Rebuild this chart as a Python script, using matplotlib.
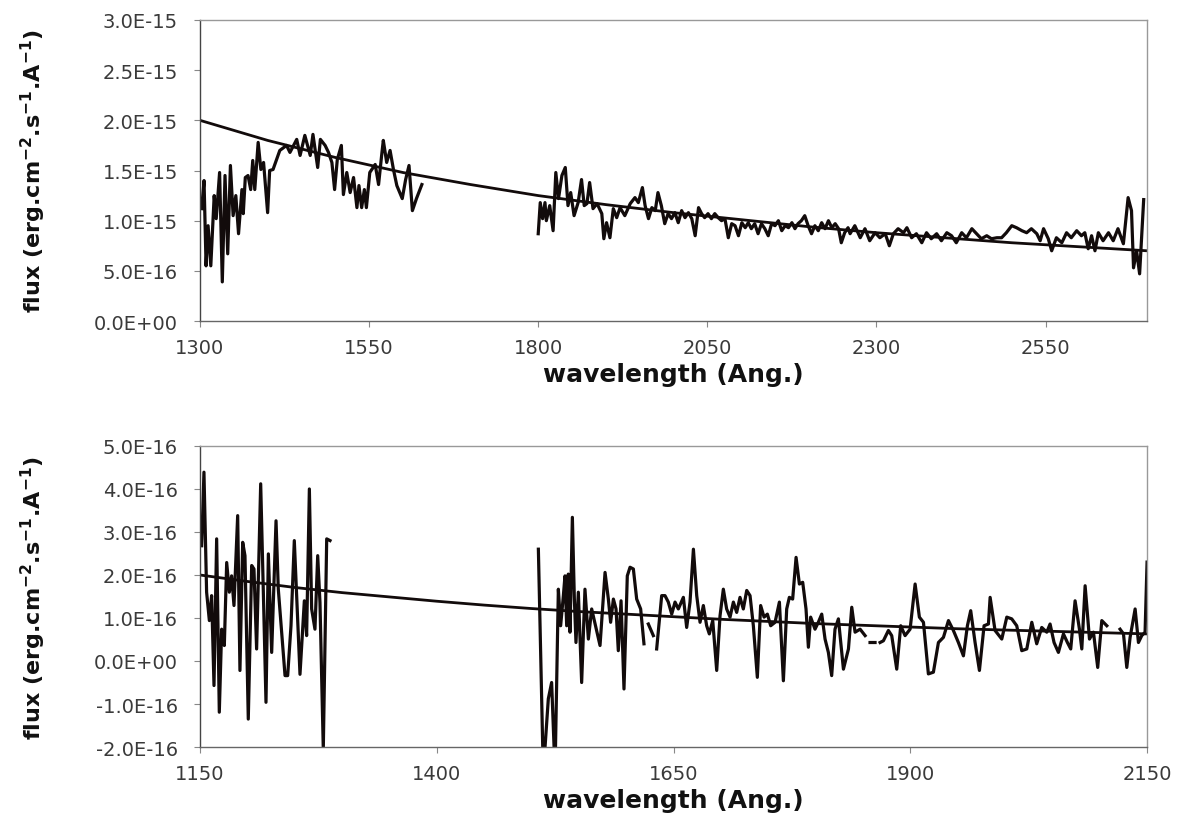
import matplotlib
matplotlib.use("Agg")
import matplotlib.pyplot as plt
from matplotlib.ticker import FuncFormatter, FixedLocator, MultipleLocator

nan = float("nan")

# --- top spectrum (flux in units of 1e-15) ---
top_wave_a = [1302.5, 1306, 1309, 1312, 1316, 1321, 1324, 1329, 1333, 1337,
              1341, 1345, 1349, 1353, 1357, 1362, 1364, 1367, 1371, 1375,
              1378, 1381, 1386, 1390, 1394, 1400, 1403, 1408, 1418, 1428,
              1433, 1443, 1448, 1455, 1463, 1467, 1474, 1478, 1485, 1490,
              1495, 1499, 1503, 1509, 1512, 1517, 1522, 1527, 1532, 1535,
              1539, 1543, 1546, 1551, 1559, 1564, 1569, 1571, 1576, 1581,
              1586, 1591, 1599, 1604, 1609, 1614, 1620, 1628]
top_flux_a = [1.12, 1.40, 0.55, 0.95, 0.55, 1.25, 1.02, 1.48, 0.39, 1.45,
              0.67, 1.55, 1.05, 1.25, 0.87, 1.31, 1.07, 1.43, 1.45, 1.31,
              1.60, 1.31, 1.78, 1.51, 1.58, 1.08, 1.50, 1.51, 1.70, 1.75,
              1.68, 1.81, 1.65, 1.85, 1.65, 1.86, 1.53, 1.81, 1.75, 1.68,
              1.58, 1.31, 1.61, 1.75, 1.26, 1.48, 1.28, 1.43, 1.13, 1.35,
              1.13, 1.31, 1.13, 1.48, 1.56, 1.36, 1.68, 1.80, 1.58, 1.70,
              1.51, 1.35, 1.22, 1.41, 1.55, 1.10, 1.22, 1.36]

top_wave_b = [1800, 1803, 1806.5, 1810, 1812, 1817, 1822, 1826, 1830, 1835,
              1840, 1844, 1848, 1853, 1859, 1864, 1868, 1872, 1876, 1881,
              1887, 1894, 1897, 1901, 1906, 1911, 1916, 1921, 1928, 1936,
              1943, 1948, 1954, 1958, 1963, 1968, 1973, 1977, 1982, 1987,
              1992, 1997, 2002, 2007, 2012, 2017, 2022, 2027, 2032, 2037,
              2041.5, 2046, 2051, 2056, 2061, 2066, 2071, 2076, 2081, 2086,
              2091, 2096, 2101, 2106, 2110.5, 2115, 2120, 2125, 2130, 2135,
              2140, 2145, 2150, 2155, 2160, 2165, 2170, 2175, 2179.5, 2184,
              2189, 2194, 2199, 2204, 2209, 2214, 2219, 2224, 2229, 2234,
              2239, 2244, 2248, 2253, 2258,
              2261, 2268, 2276, 2283, 2290, 2298, 2305, 2313, 2319, 2325,
              2332, 2340, 2345, 2352, 2359, 2367, 2374, 2381, 2389, 2396,
              2404, 2411, 2418, 2426, 2433, 2441, 2448, 2455, 2463, 2470,
              2478, 2485, 2492, 2500, 2507, 2515, 2522, 2529, 2537, 2542,
              2547, 2554, 2559, 2566, 2574, 2581, 2588, 2596, 2603, 2608,
              2613, 2618, 2623, 2628, 2635, 2643, 2650, 2657, 2665, 2672,
              2677, 2680, 2684.5, 2689, 2695]
top_flux_b = [0.87, 1.18, 1.02, 1.18, 1.00, 1.15, 0.90, 1.48, 1.22, 1.45,
              1.53, 1.15, 1.28, 1.05, 1.18, 1.41, 1.15, 1.17, 1.38, 1.12,
              1.17, 1.07, 0.82, 0.98, 0.83, 1.12, 1.03, 1.13, 1.05, 1.17,
              1.23, 1.18, 1.33, 1.15, 1.02, 1.13, 1.10, 1.28, 1.15, 0.97,
              1.07, 1.02, 1.08, 0.98, 1.10, 1.03, 1.08, 1.02, 0.85, 1.13,
              1.07, 1.03, 1.07, 1.02, 1.07, 1.03, 1.00, 1.02, 0.83, 0.97,
              0.95, 0.85, 0.98, 0.93, 0.98, 0.92, 0.97, 0.87, 0.97, 0.92,
              0.85, 0.97, 0.95, 1.00, 0.90, 0.95, 0.93, 0.98, 0.92, 0.97,
              1.00, 1.05, 0.95, 0.87, 0.95, 0.90, 0.98, 0.92, 1.00, 0.93,
              0.97, 0.92, 0.78, 0.88, 0.93,
              0.87, 0.95, 0.83, 0.92, 0.80, 0.88, 0.83, 0.87, 0.75, 0.87,
              0.92, 0.88, 0.93, 0.83, 0.87, 0.78, 0.88, 0.82, 0.87, 0.80,
              0.88, 0.85, 0.78, 0.88, 0.83, 0.92, 0.87, 0.82, 0.85, 0.82,
              0.83, 0.83, 0.88, 0.95, 0.93, 0.90, 0.88, 0.92, 0.87, 0.80,
              0.92, 0.82, 0.70, 0.83, 0.78, 0.88, 0.83, 0.90, 0.85, 0.88,
              0.72, 0.85, 0.70, 0.88, 0.80, 0.88, 0.80, 0.92, 0.77, 1.23,
              1.10, 0.53, 0.70, 0.47, 1.21]

top_fit_wave = [1300, 1400, 1500, 1600, 1700, 1800, 1900, 2000, 2100, 2200,
                2300, 2400, 2500, 2600, 2700]
top_fit_flux = [2.00, 1.80, 1.63, 1.48, 1.36, 1.25, 1.16, 1.08, 1.01, 0.94,
                0.88, 0.83, 0.78, 0.74, 0.70]
top_xticks = [1300, 1550, 1800, 2050, 2300, 2550]

# --- bottom spectrum (flux in units of 1e-16) ---
bot_wave_a = [1151.8, 1154.2, 1157.0, 1159.9, 1162.3, 1164.8, 1167.6, 1170.4, 1172.9, 1175.7,
              1178.2, 1181.0, 1183.4, 1185.9, 1189.8, 1192.2, 1195.1, 1197.5, 1201.0, 1204.6,
              1207.0, 1209.8, 1214.1, 1216.9, 1219.7, 1222.2, 1225.7, 1230.3, 1232.7, 1239.8,
              1242.6, 1246.1, 1249.6, 1255.6, 1260.2, 1262.6, 1265.5, 1267.9, 1271.4, 1274.3,
              1276.7, 1280.2, 1283.8, 1287.3]
bot_flux_a = [2.68, 4.39, 1.60, 0.94, 1.52, -0.57, 2.84, -1.19, 0.74, 0.36,
              2.29, 1.60, 1.98, 1.29, 3.38, -0.22, 2.76, 2.45, -1.35, 2.22,
              2.14, 0.28, 4.12, 1.60, -0.96, 2.49, 0.20, 3.26, 1.67, -0.34,
              -0.34, 0.82, 2.80, -0.31, 1.40, 0.59, 4.00, 1.21, 0.74, 2.45,
              1.36, -2.05, 2.84, 2.80]

bot_wave_b = [1507.3, 1512.5, 1517.8, 1521.3, 1524.9, 1528.4, 1530.8, 1533.7, 1535.4, 1537.2,
              1538.9, 1540.7, 1543.2, 1545.3, 1547.0, 1549.5, 1553.0, 1556.5, 1560.1, 1563.6,
              1572.4, 1577.7, 1581.2, 1583.6, 1586.5, 1589.3, 1591.7, 1594.6, 1597.7, 1601.2,
              1604.1, 1607.6, 1611.1, 1615.3, 1618.8, 1621.0, 1623.4, 1628.7, 1630.5, 1632.2,
              1637.5, 1641.0, 1644.5, 1648.1, 1651.6, 1655.1, 1660.4, 1663.9, 1667.4, 1671.0,
              1674.5, 1678.0, 1681.5, 1685.0, 1687.8, 1691.4, 1695.6, 1699.1, 1702.6, 1706.1,
              1709.7, 1713.2, 1716.7, 1720.2, 1723.7, 1727.3, 1730.8, 1734.3, 1738.5, 1742.0,
              1745.6, 1749.1, 1752.6, 1757.2, 1761.8, 1766.0, 1769.5, 1772.3, 1775.8, 1779.4,
              1782.9, 1786.4, 1789.9, 1792.4, 1794.8, 1799.4, 1802.9, 1806.5, 1810.0, 1813.5,
              1817.0, 1820.5, 1824.1, 1829.4, 1834.7, 1838.2, 1841.7, 1847.0, 1852.3, 1855.0,
              1857.5, 1862.8, 1865.0, 1868.1, 1871.6, 1876.9, 1880.4, 1885.7, 1889.9, 1894.5,
              1899.8, 1905.1, 1909.6, 1913.9, 1919.1, 1924.4, 1929.7, 1935.0, 1940.3, 1945.5,
              1950.8, 1956.1, 1960.3, 1963.8, 1968.4, 1973.0, 1977.9, 1982.5, 1984.3, 1989.5,
              1996.6, 2001.9, 2007.1, 2012.4, 2017.7, 2023.0, 2028.3, 2033.5, 2038.8, 2044.1,
              2047.6, 2051.8, 2056.4, 2061.7, 2065.9, 2069.4, 2074.0, 2078.6, 2081.1, 2084.6,
              2089.2, 2093.4, 2097.9, 2102.2, 2107.5, 2114.0, 2121.5, 2125.1, 2128.6, 2132.1,
              2137.4, 2140.9, 2144.4, 2147.9, 2150.0]
bot_flux_b = [2.60, -2.6, -0.88, -0.50, -2.6, 1.67, 0.82, 1.52, 1.98, 0.82,
              2.02, 0.67, 3.34, 1.44, 0.43, 1.60, -0.50, 1.67, 0.51, 1.21,
              0.36, 2.06, 1.44, 0.90, 1.44, 1.21, 0.24, 1.40, -0.65, 1.98,
              2.18, 2.14, 1.44, 1.21, 0.40, nan, 0.86, 0.59, nan, 0.28,
              1.52, 1.52, 1.37, 1.09, 1.37, 1.21, 1.48, 0.78, 1.37, 2.60,
              1.52, 0.90, 1.29, 0.82, 0.63, 0.94, -0.22, 1.05, 1.67, 1.21,
              1.02, 1.37, 1.13, 1.48, 1.21, 1.64, 1.52, 0.82, -0.38, 1.29,
              1.02, 1.09, 0.82, 0.90, 1.37, -0.46, 1.21, 1.48, 1.44, 2.41,
              1.79, 1.83, 1.21, 0.32, 1.02, 0.74, 0.90, 1.09, 0.51, 0.20,
              -0.34, 0.74, 0.98, -0.19, 0.28, 1.25, 0.67, 0.74, 0.59, nan,
              0.43, 0.43, nan, 0.43, 0.47, 0.71, 0.59, -0.19, 0.82, 0.59,
              0.74, 1.79, 1.02, 0.90, -0.30, -0.26, 0.43, 0.55, 0.94, 0.71,
              0.43, 0.12, 0.82, 1.17, 0.43, -0.22, 0.82, 0.86, 1.48, 0.71,
              0.51, 1.02, 0.98, 0.82, 0.24, 0.28, 0.90, 0.40, 0.78, 0.67,
              0.86, 0.43, 0.20, 0.63, 0.43, 0.28, 1.40, 0.74, 0.28, 1.75,
              0.51, 0.67, -0.15, 0.94, 0.82, nan, 0.74, 0.63, -0.15, 0.55,
              1.21, 0.43, 0.59, 0.67, 2.30]

bot_fit_wave = [1150, 1200, 1250, 1300, 1350, 1400, 1450, 1500, 1550, 1600, 1650,
                1700, 1750, 1800, 1850, 1900, 1950, 2000, 2050, 2100, 2150]
bot_fit_flux = [2.00, 1.85, 1.71, 1.59, 1.49, 1.39, 1.30, 1.22, 1.15, 1.09, 1.03,
                0.97, 0.92, 0.87, 0.83, 0.79, 0.75, 0.72, 0.69, 0.66, 0.63]
bot_xticks = [1150, 1400, 1650, 1900, 2150]

LINE = "#120b0b"
TICK_COLOR = "#3a3a3a"
YLABEL = r"flux (erg.cm$^{-2}$.s$^{-1}$.A$^{-1}$)"

plt.rcParams["mathtext.fontset"] = "custom"
plt.rcParams["mathtext.rm"] = "Liberation Sans Narrow:bold"
plt.rcParams["mathtext.it"] = "Liberation Sans Narrow:bold"
plt.rcParams["mathtext.bf"] = "Liberation Sans Narrow:bold"


def scaled(values, unit):
    return [v * unit for v in values]


def style_axes(ax, xlim, xticks, ylim, ystep):
    ax.set_xlim(*xlim)
    ax.set_ylim(*ylim)
    ax.xaxis.set_major_locator(FixedLocator(xticks))
    ax.yaxis.set_major_locator(MultipleLocator(ystep))
    ax.yaxis.set_major_formatter(FuncFormatter(lambda v, _: f"{v:.1E}"))
    ax.tick_params(axis="both", direction="out", length=4, width=0.8,
                   colors="#888888", labelcolor=TICK_COLOR, labelsize=14)
    ax.tick_params(axis="x", pad=8)
    ax.tick_params(axis="y", pad=12)
    for spine in ax.spines.values():
        spine.set_color("#999999")
        spine.set_linewidth(1.0)
    ax.spines["left"].set_color("#444444")
    ax.spines["bottom"].set_color("#666666")
    ax.set_xlabel("wavelength (Ang.)", fontsize=18, fontweight="bold",
                  color="#111111", labelpad=4)


fig = plt.figure(figsize=(11.84, 8.2), dpi=100)
ax1 = fig.add_axes([0.1689, 0.6073, 0.7999, 0.3671])
ax2 = fig.add_axes([0.1689, 0.0878, 0.7999, 0.3671])

ax1.plot(top_wave_a, scaled(top_flux_a, 1e-15), color=LINE, lw=2.3)
ax1.plot(top_wave_b, scaled(top_flux_b, 1e-15), color=LINE, lw=2.3)
ax1.plot(top_fit_wave, scaled(top_fit_flux, 1e-15), color=LINE, lw=2.0)
style_axes(ax1, (1300, 2700), top_xticks, (0, 3e-15), 0.5e-15)

ax2.plot(bot_wave_a, scaled(bot_flux_a, 1e-16), color=LINE, lw=2.3)
ax2.plot(bot_wave_b, scaled(bot_flux_b, 1e-16), color=LINE, lw=2.3)
ax2.plot(bot_fit_wave, scaled(bot_fit_flux, 1e-16), color=LINE, lw=2.0)
style_axes(ax2, (1150, 2150), bot_xticks, (-2e-16, 5e-16), 1e-16)

for ycen in (0.791, 0.2713):
    fig.text(0.028, ycen, YLABEL, rotation=90, ha="center", va="center",
             fontsize=16, fontweight="bold", family="Liberation Sans Narrow",
             color="#111111")

fig.savefig("out.png", dpi=100)
